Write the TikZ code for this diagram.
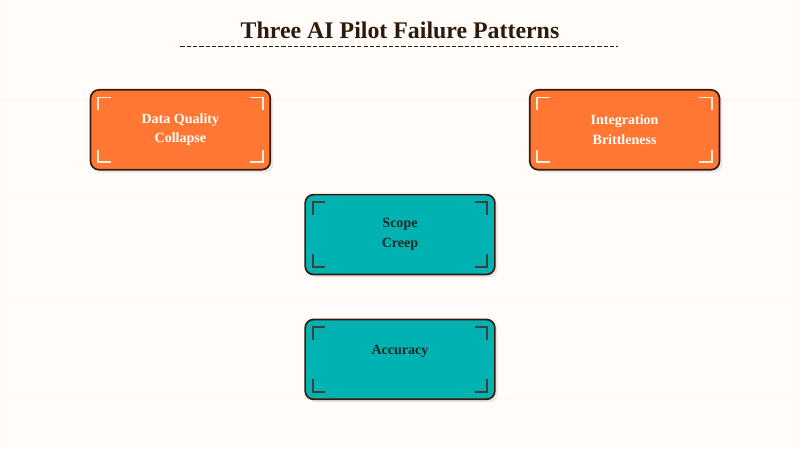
\documentclass[tikz,border=0pt]{standalone}
\usepackage{fontspec}
\setmainfont{Liberation Serif}
\usetikzlibrary{positioning, shadows}
\definecolor{bgcol}{HTML}{FFFCF9}
\definecolor{orangebox}{HTML}{FF7733}
\definecolor{tealbox}{HTML}{00B2B2}
\definecolor{darkline}{HTML}{3A1A0A}
\definecolor{titlecol}{HTML}{2E1A0A}
\newcommand{\brackets}[2]{%
  \draw [#2, line width=1.2pt] ([xshift=6pt, yshift=-15pt]#1.north west) -- ([xshift=6pt, yshift=-6pt]#1.north west) -- ([xshift=15pt, yshift=-6pt]#1.north west);
  \draw [#2, line width=1.2pt] ([xshift=-6pt, yshift=-15pt]#1.north east) -- ([xshift=-6pt, yshift=-6pt]#1.north east) -- ([xshift=-15pt, yshift=-6pt]#1.north east);
  \draw [#2, line width=1.2pt] ([xshift=6pt, yshift=15pt]#1.south west) -- ([xshift=6pt, yshift=6pt]#1.south west) -- ([xshift=15pt, yshift=6pt]#1.south west);
  \draw [#2, line width=1.2pt] ([xshift=-6pt, yshift=15pt]#1.south east) -- ([xshift=-6pt, yshift=6pt]#1.south east) -- ([xshift=-15pt, yshift=6pt]#1.south east);
}
\begin{document}
\begin{tikzpicture}[
    x=0.025cm, y=-0.025cm,
    % 样式
    box/.style={rectangle, rounded corners=6pt, draw=darkline, line width=1.2pt, minimum width=4.75cm, minimum height=2cm, align=center, font=\bfseries\fontsize{10}{14}\selectfont, drop shadow={shadow xshift=2pt, shadow yshift=-2pt, fill=black!15, opacity=0.6}},
    hot/.style={box, fill=orangebox, text=bgcol},
    cool/.style={box, fill=tealbox, text=black!85},
    guide/.style={draw=orange!6, line width=1pt}
]
\fill [bgcol] (0,0) rectangle (800,450);
\foreach \y in {100, 200, 300, 400}
  \draw [guide] (0,\y) -- (800,\y);

% 标题
\node (title) [font=\bfseries\fontsize{17}{20}\selectfont, text=titlecol] at (400,30) {Three AI Pilot Failure Patterns};
\coordinate (rule_l) at (180,47);
\coordinate (rule_r) at (618,47);
\draw [titlecol, dashed, dash pattern=on 3pt off 1.5pt, line width=0.8pt] (rule_l) -- (rule_r);

% 方框
\node (quality) [hot, minimum width=4.5cm] at (180,130) {Data Quality\\Collapse};
\node (integration) [hot] at (625,130) {Integration\\Brittleness};
\node (scope) [cool] at (400,235) {Scope\\Creep};
\node (accuracy) [cool] at (400,360) {Accuracy\\\mbox{}};

\brackets{quality}{orange!15}
\brackets{integration}{orange!15}
\brackets{scope}{black!75}
\brackets{accuracy}{black!75}

\end{tikzpicture}
\end{document}
